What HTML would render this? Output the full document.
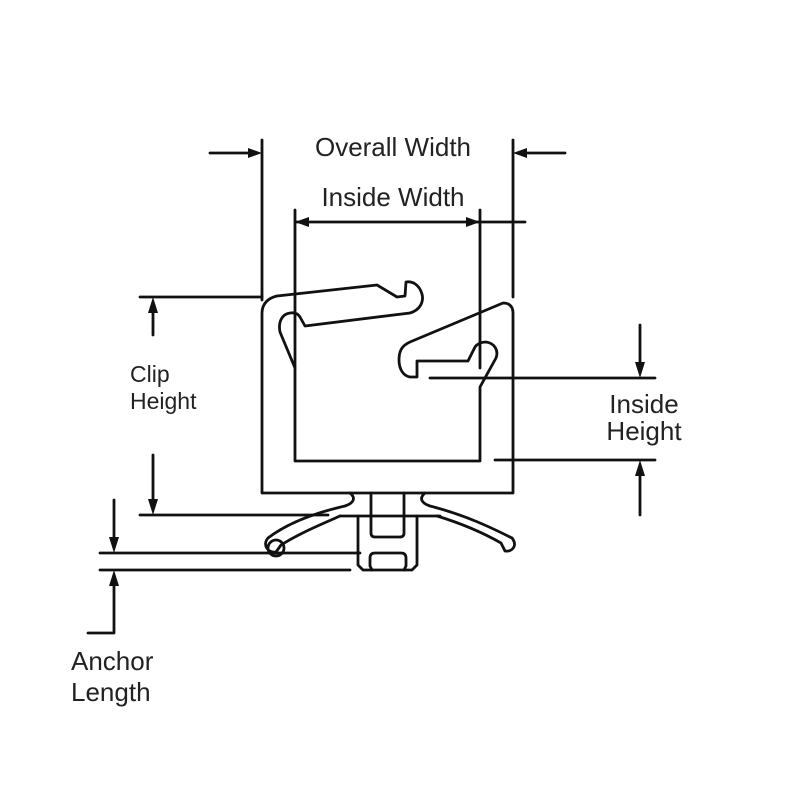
<!DOCTYPE html>
<html><head><meta charset="utf-8"><style>html,body{margin:0;padding:0;background:#fff}svg{display:block}</style></head>
<body>
<svg width="800" height="800" viewBox="0 0 800 800" xmlns="http://www.w3.org/2000/svg">
<g fill="none" stroke="#111" stroke-width="2.8" stroke-linejoin="round" stroke-linecap="round">
<path d="M295,368 L280,332 C278,322 282,314 290,313 C296,312 299,315 300,317 L305,326 L410,313 C420,310 424,302 422,294 C419,284 412,281 406,282 L405,296 L397,297 L377,285 L277,296 C268,298 262,304 262,313 L262,493 L513,493 L513,313 C513,306 509,303 503,303 L410,342 C401,346 399,352 399,360 C399,370 404,376 410,377 L417,377 L417,361 L468,361 L475,347 C478,343 482,342 486,342 C494,343 499,350 496,358 L480,387 L480,461 L295,461 Z"/>
<path d="M371,493 L371,533 Q371,537 375,537 L400,537 Q404,537 404,533 L404,493"/>
<path d="M358,516 L358,565 L363,570 L412,570 L417,565 L417,516"/>
<path d="M375,553 L401,553 Q406,553 406,558 L406,566 L404,570 M375,553 Q370,553 370,558 L370,566 L372,570"/>
<path d="M340,516 L440,516"/>
<path d="M350,493 C356,498 354,503 345,506 C310,514 285,525 268,538 C262,545 268,553 276,552 L281,545 C300,533 320,525 340,516"/>
<circle cx="276" cy="548" r="8"/>
<path d="M425,493 C419,498 421,503 430,506 C465,515 490,527 512,538 C518,546 512,552 505,551 L501,543 C480,531 460,523 437,516"/>
<path d="M262,140 L262,300 M513,140 L513,297"/>
<path d="M295,210 L295,368 M480,210 L480,368 M295,222 L525,222"/>
<path d="M210,153 L250,153 M565,153 L525,153"/>
<path d="M140,297 L262,297 M153,310 L153,335 M153,455 L153,500 M140,515 L328,515"/>
<path d="M430,378 L655,378 M495,460 L655,460 M640,325 L640,365 M640,475 L640,515"/>
<path d="M100,553 L360,553 M100,570 L350,570 M114,500 L114,540 M114,583 L114,633 L88,633"/>
</g>
<g fill="#111" stroke="none">
<path d="M262,153 L248,148 L248,158 Z"/>
<path d="M513,153 L527,148 L527,158 Z"/>
<path d="M295,222 L309,217 L309,227 Z"/>
<path d="M480,222 L466,217 L466,227 Z"/>
<path d="M153,297 L148,313 L158,313 Z"/>
<path d="M153,515 L148,499 L158,499 Z"/>
<path d="M640,378 L635,362 L645,362 Z"/>
<path d="M640,460 L635,476 L645,476 Z"/>
<path d="M114,553 L109,537 L119,537 Z"/>
<path d="M114,570 L109,586 L119,586 Z"/>
</g>
<g font-family="Liberation Sans, sans-serif" fill="#222" font-size="26">
<text x="393" y="156" text-anchor="middle">Overall Width</text>
<text x="393" y="206" text-anchor="middle">Inside Width</text>
<text x="130" y="382" font-size="23">Clip</text>
<text x="130" y="409" font-size="23">Height</text>
<text x="644" y="413" text-anchor="middle">Inside</text>
<text x="644" y="440" text-anchor="middle">Height</text>
<text x="71" y="670">Anchor</text>
<text x="71" y="701">Length</text>
</g>
</svg>
</body></html>
